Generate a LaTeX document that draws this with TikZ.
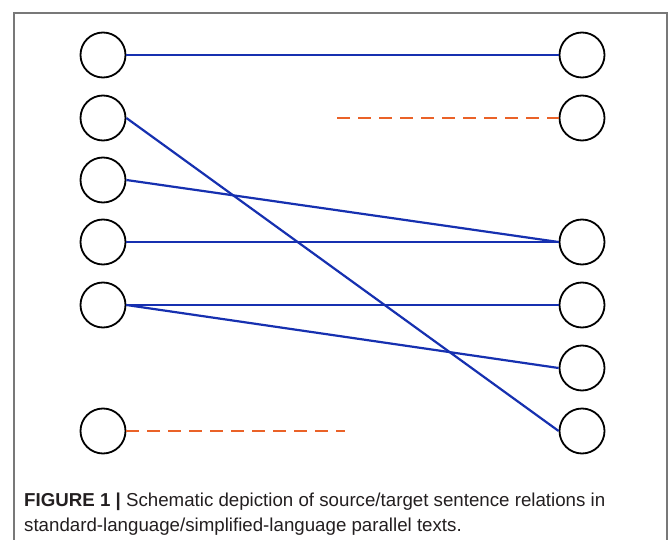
\documentclass[tikz,border=0pt]{standalone}
\usepackage{fontspec}
\newfontfamily\capfont{Liberation Sans}
\usetikzlibrary{calc}

\definecolor{linkblue}{RGB}{22,48,176}
\definecolor{droporange}{RGB}{234,98,40}
\definecolor{framegray}{RGB}{120,120,120}
\definecolor{captext}{RGB}{35,31,32}

\tikzset{
  sent/.style={circle,draw=black,line width=1.8pt,minimum size=45pt,inner sep=0pt},
  link/.style={linkblue,line width=2.2pt},
  drop/.style={droporange,line width=2.6pt,dash pattern=on 13pt off 8pt},
  captxt/.style={anchor=base west,inner sep=0pt,text=captext,font=\capfont\fontsize{18.7}{21}\selectfont}
}

\begin{document}
\begin{tikzpicture}[x=1pt,y=-1pt]
\useasboundingbox (0,0) rectangle (669,540);
\fill[white] (0,0) rectangle (669,540);
\draw[framegray,line width=1.5pt] (14,545) -- (14,13) -- (667,13) -- (667,545);

\begin{scope}[shift={(103,0)}] %source sentences
\node[sent] (l1) at (0,55) {};
\node[sent] (l2) at (0,118) {};
\node[sent] (l3) at (0,180) {};
\node[sent] (l4) at (0,242) {};
\node[sent] (l5) at (0,305) {};
\node[sent] (l6) at (0,431) {};
\end{scope}

\begin{scope}[shift={(582,0)}] %target sentences
\node[sent] (r1) at (0,55) {};
\node[sent] (r2) at (0,118) {};
\node[sent] (r3) at (0,242) {};
\node[sent] (r4) at (0,305) {};
\node[sent] (r5) at (0,368) {};
\node[sent] (r6) at (0,431) {};
\end{scope}

%alignments
\draw[link] (l1.east) -- (r1.west);
\draw[link] (l2.east) -- (r6.west);
\draw[link] (l3.east) -- (r3.west);
\draw[link] (l4.east) -- (r3.west);
\draw[link] (l5.east) -- (r4.west);
\draw[link] (l5.east) -- (r5.west);

%no counterpart
\coordinate (addend) at (337,118);
\coordinate (delend) at (345,431);
\draw[drop] (addend) -- (r2.west);
\draw[drop] (l6.east) -- (delend);

\node[captxt] (cap1) at (24,506) {\textbf{FIGURE 1 |} Schematic depiction of source/target sentence relations in};
\node[captxt] (cap2) at (24,531) {standard-language/simplified-language parallel texts.};
\end{tikzpicture}
\end{document}
